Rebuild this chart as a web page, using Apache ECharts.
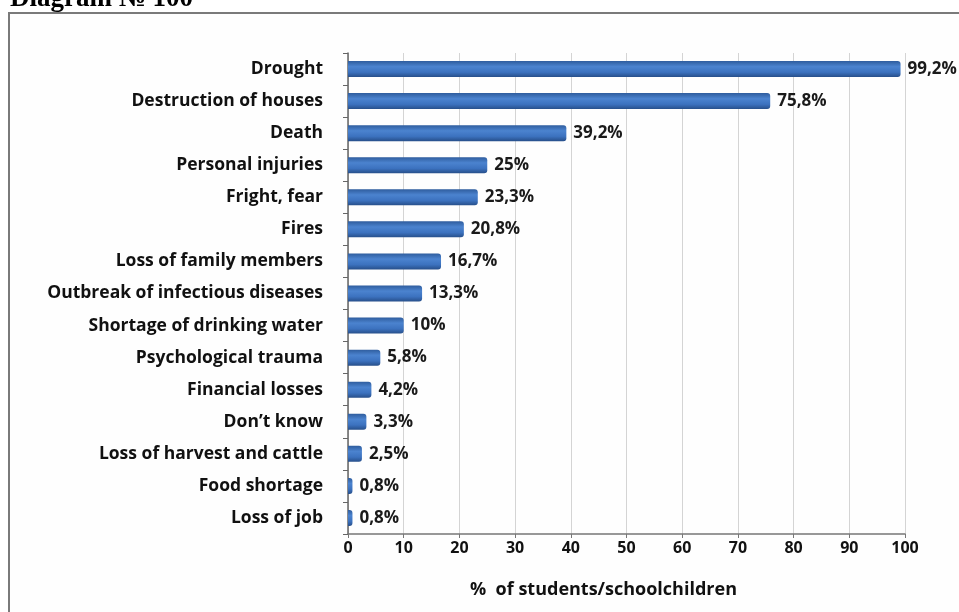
<!DOCTYPE html>
<html>
<head>
<meta charset="utf-8">
<script src="https://cdn.jsdelivr.net/npm/echarts@6/dist/echarts.min.js"></script>
<style>
  html, body { margin: 0; padding: 0; background: #fff; }
  #chart { width: 959px; height: 612px; }
</style>
</head>
<body>
<div id="chart"></div>
<script>
var categories = ['Drought', 'Destruction of houses', 'Death', 'Personal injuries', 'Fright, fear',
    'Fires', 'Loss of family members', 'Outbreak of infectious diseases', 'Shortage of drinking water',
    'Psychological trauma', 'Financial losses', 'Don\u2019t know', 'Loss of harvest and cattle',
    'Food shortage', 'Loss of job'];
var values = [99.2, 75.8, 39.2, 25, 23.3, 20.8, 16.7, 13.3, 10, 5.8, 4.2, 3.3, 2.5, 0.8, 0.8];
var axisTitle = '%  of students/schoolchildren';

var myChart = echarts.init(document.getElementById('chart'));
var font = '"Open Sans", "Noto Sans", sans-serif';

option = {
    backgroundColor: '#fff',
    animation: false,
    graphic: [{
        type: 'rect',
        shape: { x: 9, y: 13, width: 960, height: 610 },
        style: { fill: '#fefefe', stroke: '#7a7a7a', lineWidth: 2 },
        z: -10
    }, {
        type: 'text',
        style: {
            x: 10, y: 13,
            text: 'Diagram \u2116 100',
            font: 'bold 27px "Liberation Serif", serif',
            fill: '#000',
            verticalAlign: 'bottom'
        }
    }],
    grid: {
        left: 348,
        right: 54,
        top: 53,
        bottom: 78
    },
    xAxis: {
        type: 'value',
        min: 0,
        max: 100,
        interval: 10,
        name: axisTitle,
        nameLocation: 'middle',
        nameGap: 47,
        nameTextStyle: { fontFamily: font, fontWeight: 'bold', fontSize: 18, color: '#111', padding: [0, 46, 0, 0] },
        axisLine: { show: true, lineStyle: { color: '#777', width: 1.5 } },
        axisTick: { show: true, length: 4, lineStyle: { color: '#777' } },
        axisLabel: { fontFamily: font, fontWeight: 'bold', fontSize: 16, color: '#111', margin: 6 },
        splitLine: { lineStyle: { color: '#d4d4d4', width: 1 } }
    },
    yAxis: {
        type: 'category',
        inverse: true,
        data: categories,
        axisLine: { show: true, lineStyle: { color: '#666', width: 1.5 } },
        axisTick: { show: true, inside: false, length: 5, lineStyle: { color: '#666' } },
        axisLabel: { fontFamily: font, fontWeight: 'bold', fontSize: 17.5, color: '#111', margin: 25 }
    },
    series: [{
        type: 'bar',
        data: values,
        barWidth: 16,
        itemStyle: {
            color: new echarts.graphic.LinearGradient(0, 0, 0, 1, [
                { offset: 0, color: '#2f5d9e' },
                { offset: 0.35, color: '#4b83cf' },
                { offset: 0.7, color: '#3c72bf' },
                { offset: 1, color: '#274f8a' }
            ]),
            borderRadius: [0, 3, 3, 0]
        },
        label: {
            show: true,
            position: 'right',
            distance: 7,
            fontFamily: font,
            fontWeight: 'bold',
            fontSize: 17,
            color: '#1a1a1a',
            formatter: function (p) { return String(p.value).replace('.', ',') + '%'; }
        }
    }]
};
myChart.setOption(option);
</script>
</body>
</html>
